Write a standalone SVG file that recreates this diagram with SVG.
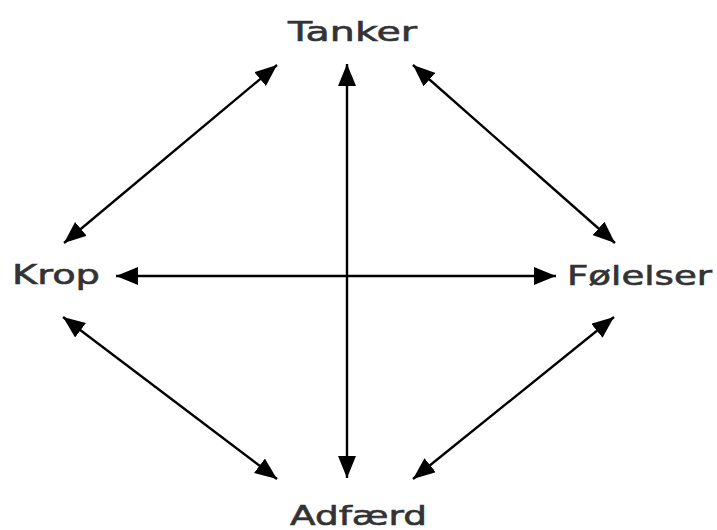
<svg xmlns="http://www.w3.org/2000/svg" width="717" height="530" viewBox="0 0 717 530">
<defs>
<marker id="ah" markerUnits="userSpaceOnUse" markerWidth="22" markerHeight="18" refX="22" refY="9" orient="auto-start-reverse">
<path d="M0,0 L22,9 L0,18 z" fill="#000"/>
</marker>
<style>
.lbl{font-family:"DejaVu Sans","Liberation Sans",sans-serif;font-size:27px;fill:#333;stroke:#333;stroke-width:0.6;}
.c{stroke:#000;stroke-width:2.4;fill:none;marker-start:url(#ah);marker-end:url(#ah);}
</style>
</defs>
<rect width="717" height="530" fill="#fff"/>
<g id="connectors">
<line class="c" x1="347" y1="64" x2="347" y2="478"/>
<line class="c" x1="116" y1="276" x2="556" y2="276"/>
<line class="c" x1="277" y1="65" x2="64" y2="243"/>
<line class="c" x1="413" y1="65" x2="615" y2="243"/>
<line class="c" x1="63" y1="317" x2="277" y2="479"/>
<line class="c" x1="614" y1="317" x2="413" y2="479"/>
</g>
<g id="tanker"><text class="lbl" x="288" y="41" textLength="129" lengthAdjust="spacingAndGlyphs">Tanker</text></g>
<g id="krop"><text class="lbl" x="12" y="284" textLength="88" lengthAdjust="spacingAndGlyphs">Krop</text></g>
<g id="folelser"><text class="lbl" x="567" y="285" textLength="145" lengthAdjust="spacingAndGlyphs">Følelser</text></g>
<g id="adfaerd"><text class="lbl" x="290" y="525" textLength="137" lengthAdjust="spacingAndGlyphs">Adfærd</text></g>
</svg>
